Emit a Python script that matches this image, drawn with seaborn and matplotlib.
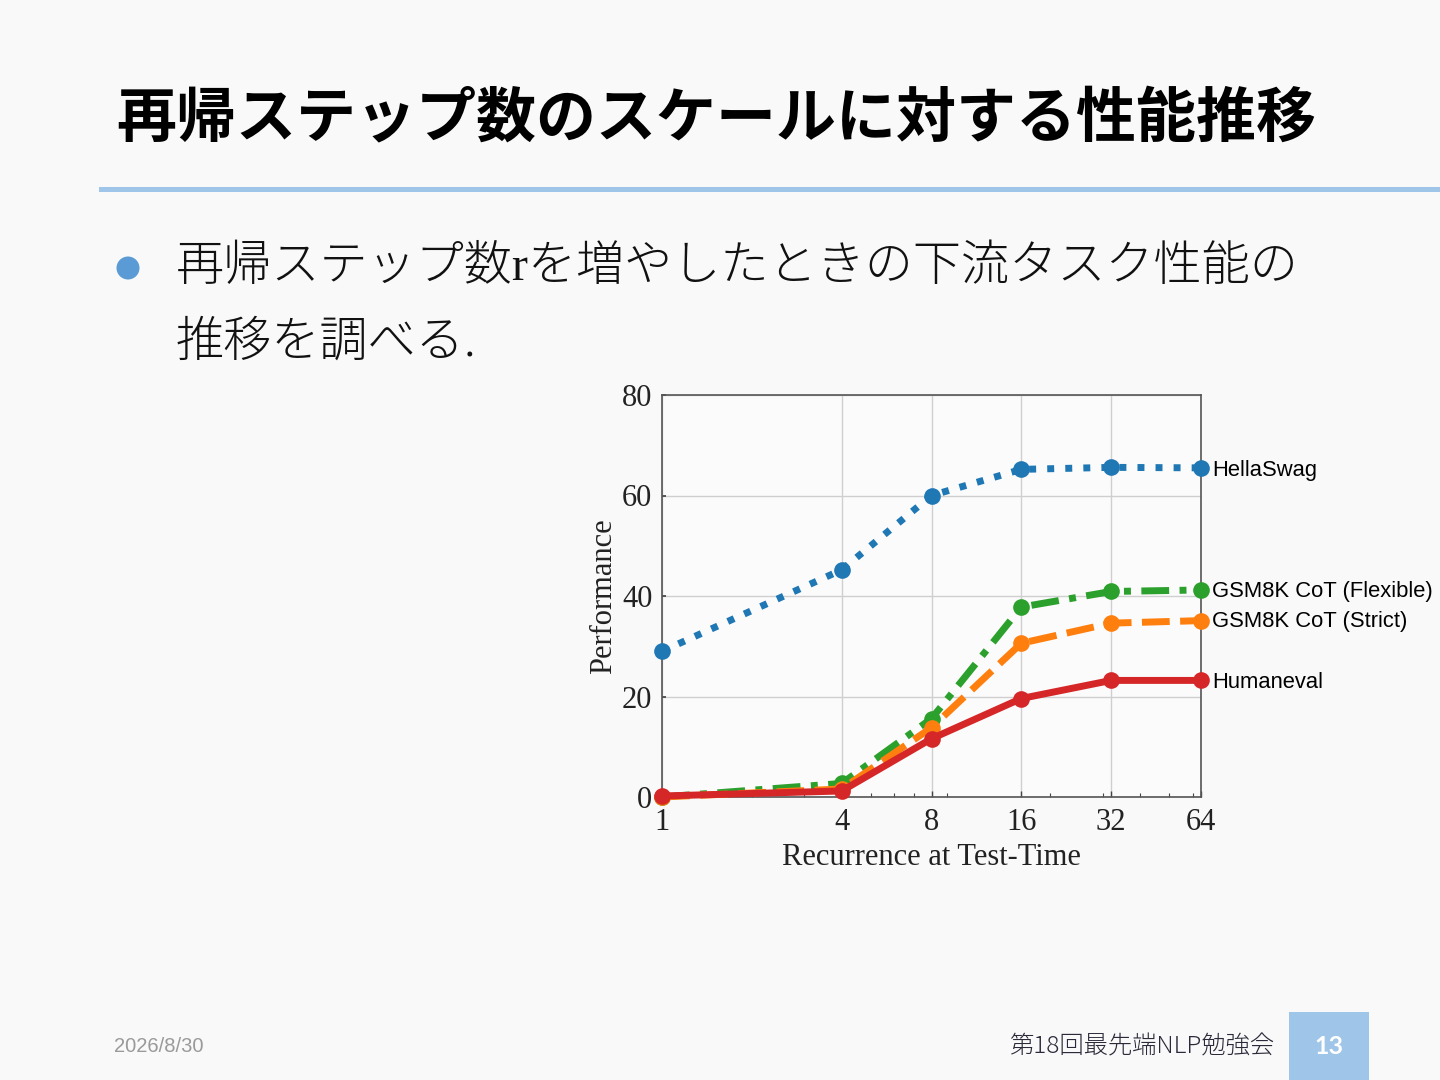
import matplotlib
matplotlib.use("Agg")
import matplotlib.pyplot as plt
import matplotlib.ticker as mticker
from matplotlib.patches import Rectangle, Ellipse
import seaborn as sns
import pandas as pd

# ---- data ----
recurrence = [1, 4, 8, 16, 32, 64]
hellaswag = [29.0, 45.2, 60.0, 65.2, 65.6, 65.5]
gsm8k_flexible = [0.0, 2.7, 15.6, 37.8, 40.9, 41.2]
gsm8k_strict = [0.0, 1.6, 13.8, 30.6, 34.6, 35.1]
humaneval = [0.2, 1.2, 11.6, 19.6, 23.2, 23.2]
series_names = ["HellaSwag", "GSM8K CoT (Flexible)", "GSM8K CoT (Strict)", "Humaneval"]
x_ticks = [1, 4, 8, 16, 32, 64]
y_ticks = [0, 20, 40, 60, 80]

title_text = "再帰ステップ数のスケールに対する性能推移"
bullet_line1 = "再帰ステップ数rを増やしたときの下流タスク性能の"
bullet_line2 = "推移を調べる."
date_text = "2026/8/30"
footer_text = "第18回最先端NLP勉強会"
page_text = "13"

sns.set_theme(style="whitegrid")
plt.rcParams["font.family"] = ["Noto Sans CJK JP", "DejaVu Sans"]

BG = "#f9f9f9"
W, H = 1440, 1080
fig = plt.figure(figsize=(14.4, 10.8), dpi=100, facecolor=BG)

# ---- slide decorations ----
fig.text(116 / W, 1 - 120 / H, title_text, fontsize=43.2, fontweight="bold",
         color="#000000", ha="left", va="center",
         family=["Noto Sans CJK JP", "DejaVu Sans"])
fig.add_artist(Rectangle((99 / W, 1 - 192 / H), 1 - 99 / W, 5 / H,
                         transform=fig.transFigure, color="#9fc5e8", lw=0))
fig.add_artist(Ellipse((128 / W, 1 - 268 / H), 23 / W, 23 / H,
                       transform=fig.transFigure, color="#5b9bd5", lw=0))
body_font = ["Liberation Serif", "Noto Sans CJK JP", "DejaVu Sans"]
fig.text(176 / W, 1 - 268 / H, bullet_line1, fontsize=34.7, fontweight="light",
         color="#111111", ha="left", va="center", family=body_font)
fig.text(176 / W, 1 - 342 / H, bullet_line2, fontsize=34.7, fontweight="light",
         color="#111111", ha="left", va="center",
         family=["Noto Sans CJK JP", "DejaVu Sans"])

fig.text(114 / W, 1 - 1046 / H, date_text, fontsize=14.5, color="#9a9a9a",
         ha="left", va="center", family=["Liberation Sans", "DejaVu Sans"])
fig.text(1275 / W, 1 - 1047 / H, footer_text, fontsize=17.5, color="#2a2a3a",
         ha="right", va="center", fontweight="light",
         family=["Noto Sans CJK JP", "DejaVu Sans"])
fig.add_artist(Rectangle((1289 / W, 0), 80 / W, 68 / H,
                         transform=fig.transFigure, color="#9fc5e8", lw=0))
fig.text(1329 / W, 1 - 1046 / H, page_text, fontsize=18, color="white",
         fontweight="bold", ha="center", va="center", family=["Lato", "DejaVu Sans"])

# ---- chart ----
ax = fig.add_axes([662 / W, 1 - 797 / H, (1201 - 662) / W, (797 - 395) / H])
ax.set_facecolor("#fbfbfb")

df = pd.DataFrame({
    "Recurrence": recurrence * 4,
    "Performance": hellaswag + gsm8k_flexible + gsm8k_strict + humaneval,
    "Task": sum([[n] * len(recurrence) for n in series_names], []),
})

styles = {
    "HellaSwag": ("#1f77b4", (0, (1, 1.6))),
    "GSM8K CoT (Flexible)": ("#2ca02c", (0, (4, 1.5, 1, 1.5))),
    "GSM8K CoT (Strict)": ("#ff7f0e", (0, (4, 1.5))),
    "Humaneval": ("#d62728", "-"),
}
for name in series_names:
    sub = df[df["Task"] == name]
    color, ls = styles[name]
    sns.lineplot(data=sub, x="Recurrence", y="Performance", ax=ax, color=color,
                 linestyle=ls, linewidth=5, marker="o", markersize=12,
                 markeredgewidth=0, clip_on=False, zorder=3)

ax.set_xscale("log", base=2)
ax.set_xlim(1, 64)
ax.set_ylim(0, 80)
ax.xaxis.set_major_locator(mticker.FixedLocator(x_ticks))
ax.xaxis.set_major_formatter(mticker.FixedFormatter([str(t) for t in x_ticks]))
ax.xaxis.set_minor_locator(mticker.LogLocator(base=10, subs=[2, 3, 4, 5, 6, 7, 8, 9]))
ax.xaxis.set_minor_formatter(mticker.NullFormatter())
ax.yaxis.set_major_locator(mticker.FixedLocator(y_ticks))

serif = ["Liberation Serif", "DejaVu Serif"]
for lab in ax.get_xticklabels() + ax.get_yticklabels():
    lab.set_family(serif)
    lab.set_fontsize(22)
    lab.set_color("#222222")
ax.tick_params(axis="x", which="major", direction="in", length=4, width=1, pad=8,
               bottom=True, color="#444444")
ax.tick_params(axis="x", which="minor", direction="in", length=3, width=0.8,
               bottom=True, color="#444444")
ax.tick_params(axis="y", which="major", direction="in", length=3, pad=7, left=True,
               color="#444444")
ax.set_xlabel("Recurrence at Test-Time", family=serif, fontsize=22, color="#222222",
              labelpad=4)
ax.set_ylabel("Performance", family=serif, fontsize=22, color="#222222", labelpad=3)
ax.grid(True, which="major", color="#cfcfcf", linewidth=1)
ax.grid(False, which="minor")
for sp in ax.spines.values():
    sp.set_color("#555555")
    sp.set_linewidth(1.2)
    sp.set_visible(True)

label_y = {"HellaSwag": 65.0, "GSM8K CoT (Flexible)": 40.8,
           "GSM8K CoT (Strict)": 35.0, "Humaneval": 22.8}
for name in series_names:
    ax.annotate(name, xy=(64, label_y[name]), xytext=(8, 0), textcoords="offset points",
                ha="left", va="center", fontsize=15.8, color="#000000",
                family=["Liberation Sans", "DejaVu Sans"], annotation_clip=False)

fig.savefig("out.png", dpi=100, facecolor=BG)
